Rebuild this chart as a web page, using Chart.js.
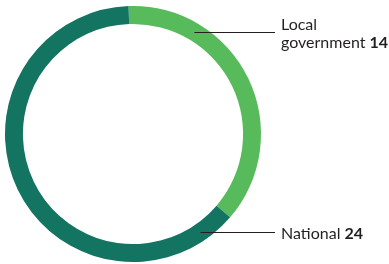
<!DOCTYPE html>
<html>
<head>
<meta charset="utf-8">
<script src="https://cdn.jsdelivr.net/npm/chart.js@4/dist/chart.umd.min.js"></script>
<style>
  html, body { margin: 0; padding: 0; background: #fff; }
  #chart { display: block; }
</style>
</head>
<body>
<canvas id="chart" width="389" height="264"></canvas>
<script>
// data
const categories = ['Local government', 'National'];
const values = [14, 24];
const colours = ['#57BB5B', '#137461'];

// label lines: [text lines], baseline y of each line, y of the leader line
const labelLayout = [
  { lines: ['Local', 'government '], bases: [30, 48], lineY: 32 },
  { lines: ['National '], bases: [239], lineY: 232 }
];

const labelPlugin = {
  id: 'sideLabels',
  afterDraw(chart) {
    const ctx = chart.ctx;
    const arc = chart.getDatasetMeta(0).data[0];
    const cx = arc.x, cy = arc.y;
    const r = (arc.innerRadius + arc.outerRadius) / 2;
    const textX = 281;
    ctx.save();
    labelLayout.forEach((lab, i) => {
      const dy = lab.lineY - cy;
      const startX = cx + Math.sqrt(r * r - dy * dy);
      ctx.strokeStyle = '#231f20';
      ctx.lineWidth = 1;
      ctx.beginPath();
      ctx.moveTo(startX, lab.lineY + 0.5);
      ctx.lineTo(textX - 6, lab.lineY + 0.5);
      ctx.stroke();

      ctx.fillStyle = '#231f20';
      ctx.textBaseline = 'alphabetic';
      ctx.textAlign = 'left';
      lab.lines.forEach((t, j) => {
        ctx.font = '16px Lato';
        ctx.fillText(t, textX, lab.bases[j]);
        if (j === lab.lines.length - 1) {
          const w = ctx.measureText(t).width;
          ctx.font = 'bold 16px Lato';
          ctx.fillText(String(values[i]), textX + w, lab.bases[j]);
        }
      });
    });
    ctx.restore();
  }
};

new Chart(document.getElementById('chart'), {
  type: 'doughnut',
  data: {
    labels: categories,
    datasets: [{
      data: values,
      backgroundColor: colours,
      borderWidth: 0
    }]
  },
  options: {
    responsive: false,
    animation: false,
    devicePixelRatio: 1,
    rotation: -2,
    cutout: '86%',
    layout: { padding: { left: 5, right: 128, top: 6, bottom: 2 } },
    plugins: {
      legend: { display: false },
      tooltip: { enabled: false }
    }
  },
  plugins: [labelPlugin]
});
</script>
</body>
</html>
